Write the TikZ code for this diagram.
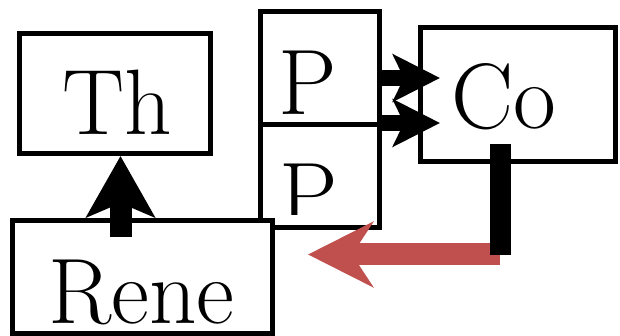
\documentclass[tikz,border=0pt]{standalone}
\usepackage{fontspec}
\usetikzlibrary{arrows.meta}
\definecolor{arrred}{HTML}{C0504D}
\tikzset{
  box/.style={draw, line width=5pt, fill=white, inner sep=0pt, rectangle},
  lbl/.style={font=\fontsize{93}{93}\selectfont\addfontfeatures{FakeStretch=0.95,FakeBold=0.6}, inner sep=0pt, anchor=base},
  widelbl/.style={font=\fontsize{93}{93}\selectfont\addfontfeatures{FakeStretch=1.0,FakeBold=0.6}, inner sep=0pt, anchor=base},
  blackarrow/.style={line width=16pt, -{Stealth[length=47pt,width=47pt,inset=11pt]}},
}
\begin{document}
\begin{tikzpicture}[x=1pt,y=-1pt]
\useasboundingbox (0,0) rectangle (620,336);
% boxes
\node[box, minimum width=119pt, minimum height=113.5pt] (p1) at (320,68.25) {};
\node[box, minimum width=119pt, minimum height=103pt] (p2) at (320,176.5) {};
\node[box, minimum width=195pt, minimum height=134pt] (co) at (518,94.5) {};
\node[box, minimum width=191pt, minimum height=120pt] (th) at (115,93.5) {};
\node[box, minimum width=260pt, minimum height=112.5pt] (rene) at (142.5,276.75) {};
% texts
\node[lbl] (tht) at (117.5,135) {Th};
\node[widelbl] (renet) at (141.5,323) {Rene};
\node[lbl] (cot) at (503.5,129) {Co};
\node[lbl] (p1t) at (307.5,115) {P};
\begin{scope}
\clip (262,128) rectangle (378,215);
\node[lbl] (p2t) at (309,228) {P};
\end{scope}
% arrows P -> Co
\coordinate (c1) at (440,78);
\coordinate (c2) at (440,123);
\draw[blackarrow] (p1.east |- c1) -- (c1);
\draw[blackarrow] (p1.east |- c2) -- (c2);
% Rene -> Th
\coordinate (thsrc) at (120.5,237);
\draw[line width=22pt, -{Stealth[length=61pt,width=68pt,inset=14pt]}] (thsrc) -- (th.south -| thsrc);
% Co -> P (red)
\coordinate (rs) at (500,254.5);
\coordinate (re) at (308,254.5);
\coordinate (cobar) at (500.5,144);
\coordinate (cobarend) at (500.5,255);
\draw[arrred, line width=22pt, -{Stealth[length=65pt,width=65pt,inset=21pt]}] (rs) -- (re);
\draw[black, line width=21pt] (cobar) -- (cobarend);
\end{tikzpicture}
\end{document}
